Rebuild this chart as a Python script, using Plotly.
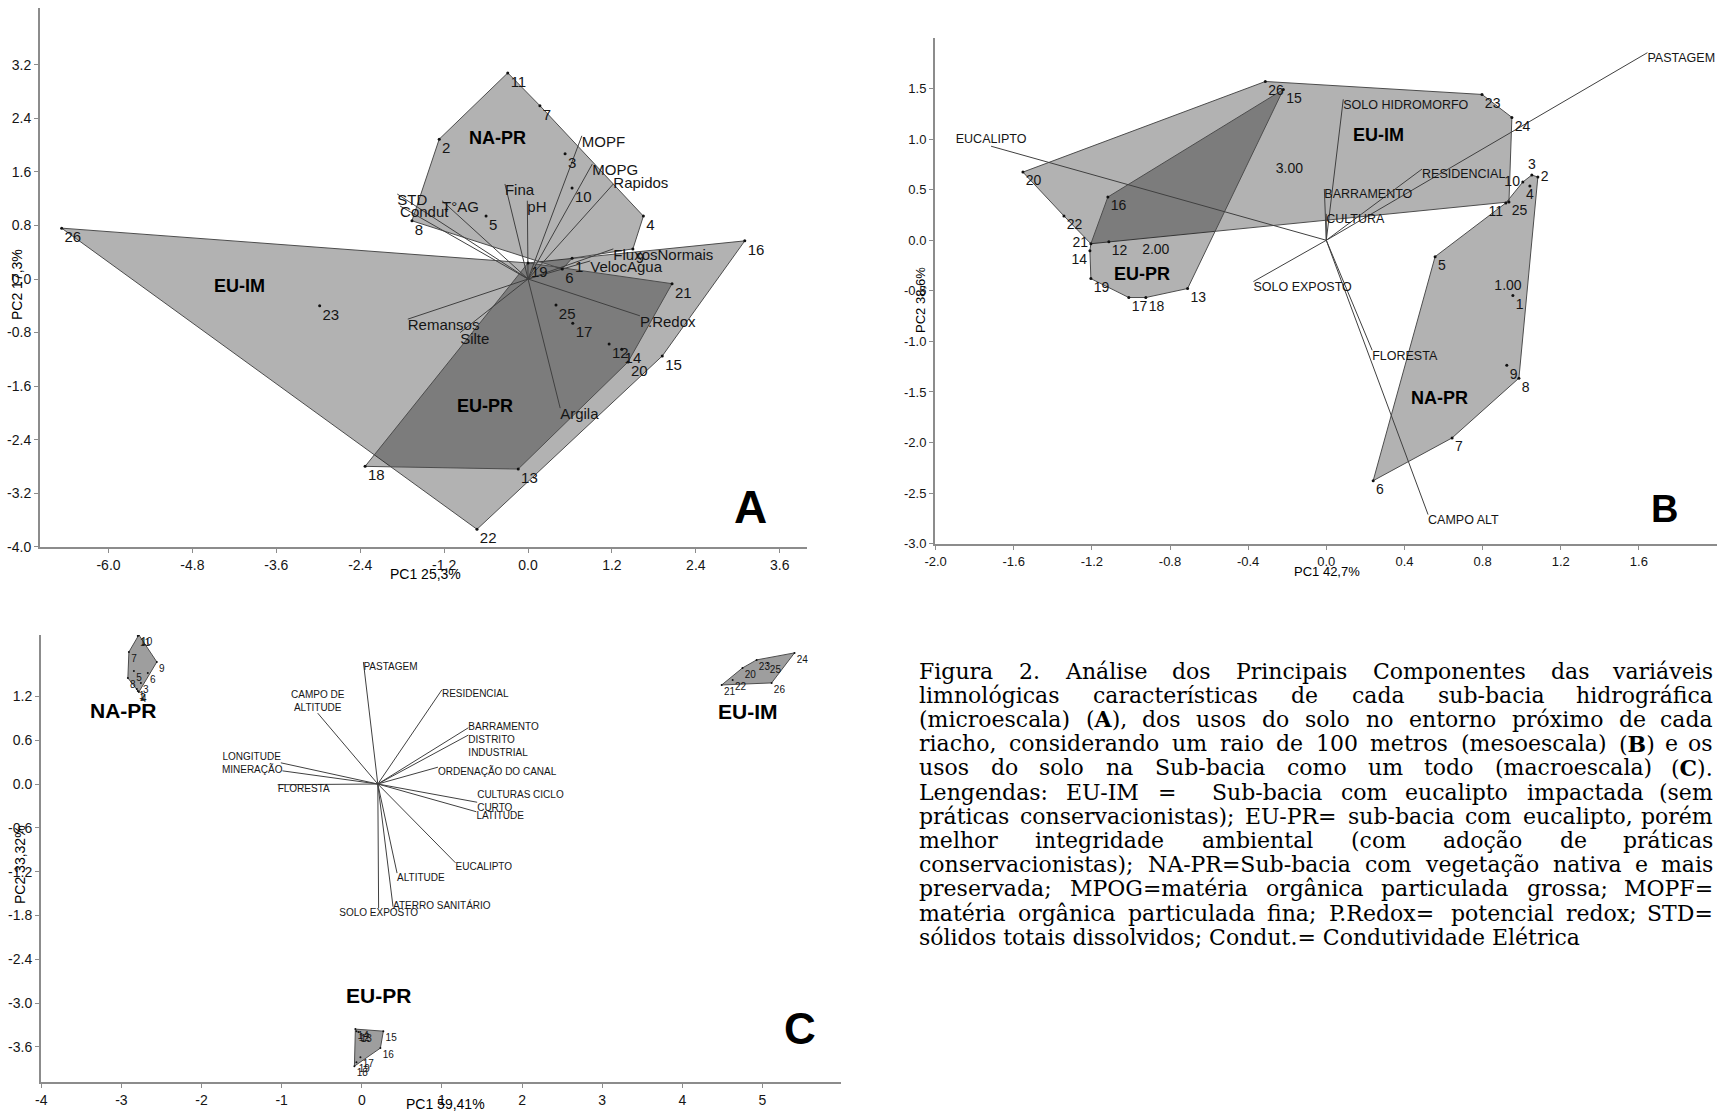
import plotly.graph_objects as go

W, H = 1717, 1114

# ---------------- Panel A (microescala) ----------------
A_site = ['1', '2', '3', '4', '5', '6', '7', '8', '9', '10', '11', '12', '13', '14', '15',
          '16', '17', '18', '19', '20', '21', '22', '23', '25', '26']
A_pc1 = [0.63, -1.27, 0.53, 1.65, -0.60, 0.49, 0.17, -1.66, 1.50, 0.63, -0.29, 1.16, -0.14, 1.34, 1.92,
         3.10, 0.64, -2.33, 0.00, 1.43, 2.06, -0.73, -2.98, 0.40, -6.67]
A_pc2 = [0.31, 2.09, 1.87, 0.94, 0.94, 0.15, 2.59, 0.87, 0.45, 1.36, 3.08, -0.97, -2.84, -1.05, -1.15,
         0.57, -0.66, -2.80, 0.24, -1.24, -0.07, -3.74, -0.40, -0.39, 0.76]
A_hulls = [['26', '19', '16', '15', '22'],
           ['11', '7', '4', '9', '1', '6', '8', '2'],
           ['19', '21', '20', '13', '18']]
A_var = ['MOPF', 'MOPG', 'Rapidos', 'Fina', 'pH', 'STD', 'Condut', 'T°AG', 'FluxosNormais',
         'VelocAgua', 'P.Redox', 'Argila', 'Remansos', 'Silte']
A_var_x = [0.77, 0.92, 1.22, -0.33, -0.01, -1.87, -1.83, -1.23, 1.22, 0.89, 1.60, 0.46, -1.72, -0.97]
A_var_y = [2.14, 1.72, 1.42, 1.42, 1.17, 1.27, 1.09, 1.17, 0.45, 0.27, -0.55, -1.93, -0.60, -0.80]
A_origin = [0.0, 0.0]

# ---------------- Panel B (mesoescala) ----------------
B_site = [str(i) for i in range(1, 27)]
B_pc1 = [0.955, 1.083, 1.052, 1.042, 0.557, 0.240, 0.644, 0.986, 0.924, 1.006, 0.919, -1.113, -0.710,
         -1.210, -0.220, -1.118, -1.011, -0.924, -1.205, -1.553, -1.205, -1.343, 0.797, 0.950, 0.935, -0.312]
B_pc2 = [-0.546, 0.625, 0.645, 0.536, -0.162, -2.377, -1.954, -1.363, -1.235, 0.576, 0.369, -0.015, -0.477,
         -0.103, 1.491, 0.428, -0.566, -0.566, -0.379, 0.674, -0.034, 0.241, 1.442, 1.215, 0.379, 1.570]
B_hulls = [['20', '26', '23', '24', '25', '21', '22'],
           ['15', '13', '18', '17', '19', '14', '21', '16'],
           ['11', '10', '3', '2', '8', '7', '6', '5']]
B_var = ['EUCALIPTO', 'PASTAGEM', 'SOLO HIDROMORFO', 'RESIDENCIAL', 'BARRAMENTO', 'CULTURA',
         'SOLO EXPOSTO', 'FLORESTA', 'CAMPO ALT']
B_var_x = [-1.716, 1.644, 0.087, 0.490, -0.010, 0.0, -0.373, 0.235, 0.521]
B_var_y = [0.930, 1.855, 1.394, 0.704, 0.507, 0.261, -0.408, -1.088, -2.712]
B_origin = [0.0, 0.0]
B_num = ['3.00', '2.00', '1.00']
B_num_x = [-0.189, -0.873, 0.930]
B_num_y = [0.704, -0.103, -0.458]

# ---------------- Panel C (macroescala) ----------------
C_site = [str(i) for i in range(1, 27)]
C_pc1 = [-2.807, -2.795, -2.757, -2.782, -2.844, -2.670, -2.906, -2.919, -2.558, -2.782, -2.795,
         -0.067, -0.042, -0.080, 0.269, 0.232, -0.017, -0.092, -0.067,
         4.751, 4.491, 4.628, 4.927, 5.400, 5.064, 5.114]
C_pc2 = [1.301, 1.274, 1.384, 1.260, 1.548, 1.521, 1.808, 1.452, 1.671, 2.041, 2.027,
         -3.384, -3.397, -3.356, -3.384, -3.616, -3.740, -3.863, -3.808,
         1.589, 1.356, 1.425, 1.699, 1.795, 1.658, 1.384]
C_hulls = [['10', '9', '4', '8', '7'],
           ['14', '15', '16', '18'],
           ['21', '20', '23', '24', '26']]
C_var = ['PASTAGEM', 'CAMPO DE<br>ALTITUDE', 'LONGITUDE', 'MINERAÇÃO', 'FLORESTA', 'RESIDENCIAL',
         'BARRAMENTO', 'DISTRITO<br>INDUSTRIAL', 'ORDENAÇÃO DO CANAL', 'CULTURAS CICLO<br>CURTO',
         'LATITUDE', 'EUCALIPTO', 'ALTITUDE', 'ATERRO SANITÁRIO', 'SOLO EXPOSTO']
C_var_x = [0.02, -0.55, -1.01, -0.99, -1.05, 1.00, 1.33, 1.33, 0.95, 1.44, 1.43, 1.17, 0.44, 0.39, 0.21]
C_var_y = [1.67, 0.97, 0.29, 0.18, -0.01, 1.29, 0.77, 0.67, 0.23, -0.25, -0.38, -1.08, -1.22, -1.68, -1.70]
C_origin = [0.2, 0.0]

# ---------------- Caption ----------------
caption_lines = [
    "Figura 2. Análise dos Principais Componentes das variáveis",
    "limnológicas características de cada sub-bacia hidrográfica",
    "(microescala) (<b>A</b>), dos usos do solo no entorno próximo de cada",
    "riacho, considerando um raio de 100 metros (mesoescala) (<b>B</b>) e os",
    "usos do solo na Sub-bacia como um todo (macroescala) (<b>C</b>).",
    "Lengendas: EU-IM =  Sub-bacia com eucalipto impactada (sem",
    "práticas conservacionistas); EU-PR= sub-bacia com eucalipto, porém",
    "melhor integridade ambiental (com adoção de práticas",
    "conservacionistas); NA-PR=Sub-bacia com vegetação nativa e mais",
    "preservada; MPOG=matéria orgânica particulada grossa; MOPF=",
    "matéria orgânica particulada fina; P.Redox= potencial redox; STD=",
    "sólidos totais dissolvidos; Condut.= Condutividade Elétrica",
]

NARROW = "Liberation Sans Narrow, Arial Narrow, Liberation Sans, Arial, sans-serif"
SANS = "Liberation Sans, Arial, sans-serif"
SERIF = "DejaVu Serif, Liberation Serif, serif"
FILL = 'rgba(0,0,0,0.30)'
TXT = '#151515'

fig = go.Figure()


def add_panel(xa, ya, sites, px, py, hulls, vnames, vx, vy, origin,
              site_font, var_font, site_pos, var_pos, fill, msize=3):
    idx = {s: i for i, s in enumerate(sites)}
    for hull in hulls:
        hx = [px[idx[s]] for s in hull] + [px[idx[hull[0]]]]
        hy = [py[idx[s]] for s in hull] + [py[idx[hull[0]]]]
        fig.add_trace(go.Scatter(x=hx, y=hy, mode='lines', fill='toself', fillcolor=fill,
                                 line=dict(color='#4d4d4d', width=1), xaxis=xa, yaxis=ya,
                                 hoverinfo='skip', showlegend=False))
    lx, ly = [], []
    for a, b in zip(vx, vy):
        lx += [origin[0], a, None]
        ly += [origin[1], b, None]
    fig.add_trace(go.Scatter(x=lx, y=ly, mode='lines', line=dict(color='#404040', width=1),
                             xaxis=xa, yaxis=ya, hoverinfo='skip', showlegend=False))
    fig.add_trace(go.Scatter(x=vx, y=vy, mode='text', text=vnames, textposition=var_pos,
                             textfont=var_font, xaxis=xa, yaxis=ya, hoverinfo='skip', showlegend=False))
    fig.add_trace(go.Scatter(x=px, y=py, mode='markers+text', text=sites, textposition=site_pos,
                             marker=dict(size=msize, color='#111111'), textfont=site_font,
                             xaxis=xa, yaxis=ya, hoverinfo='skip', showlegend=False))


# Panel A
A_var_pos = ['bottom right'] * len(A_var)
A_var_pos[A_var.index('Rapidos')] = 'middle right'
add_panel('x', 'y', A_site, A_pc1, A_pc2, A_hulls, A_var, A_var_x, A_var_y, A_origin,
          dict(family=NARROW, size=15, color=TXT), dict(family=NARROW, size=15, color=TXT),
          ['bottom right'] * len(A_site), A_var_pos, FILL)

# Panel B
B_pos_special = {'21': 'middle left', '14': 'bottom left', '10': 'middle left', '3': 'top center',
                 '2': 'middle right', '4': 'bottom center', '11': 'bottom left'}
B_site_pos = [B_pos_special.get(s, 'bottom right') for s in B_site]
B_var_pos = ['bottom right'] * len(B_var)
B_var_pos[0] = 'top center'
add_panel('x2', 'y2', B_site, B_pc1, B_pc2, B_hulls, B_var, B_var_x, B_var_y, B_origin,
          dict(family=NARROW, size=14, color=TXT), dict(family=NARROW, size=12.5, color=TXT),
          B_site_pos, B_var_pos, FILL)
fig.add_trace(go.Scatter(x=B_num_x, y=B_num_y, mode='text', text=B_num, textposition='middle center',
                         textfont=dict(family=NARROW, size=14, color=TXT), xaxis='x2', yaxis='y2',
                         hoverinfo='skip', showlegend=False))

# Panel C
C_var_pos = ['bottom right', 'top center', 'top left', 'middle left', 'bottom right', 'bottom right',
             'middle right', 'bottom right', 'bottom right', 'middle right', 'bottom right',
             'bottom right', 'bottom right', 'middle right', 'bottom center']
add_panel('x3', 'y3', C_site, C_pc1, C_pc2, C_hulls, C_var, C_var_x, C_var_y, C_origin,
          dict(family=SANS, size=10, color=TXT), dict(family=SANS, size=10, color=TXT),
          ['bottom right'] * len(C_site), C_var_pos, 'rgba(0,0,0,0.38)', msize=2)


def ax(domain, rng, tickvals, fmt, size, anchor):
    return dict(domain=domain, range=rng, anchor=anchor, showgrid=False, zeroline=False,
                automargin=False,
                showline=True, linecolor='#8c8c8c', linewidth=2, ticks='outside', ticklen=4,
                tickcolor='#8c8c8c', tickwidth=1, tickvals=tickvals,
                ticktext=[fmt % v for v in tickvals],
                tickfont=dict(family=NARROW, size=size, color=TXT))


A_xt = [-6.0, -4.8, -3.6, -2.4, -1.2, 0.0, 1.2, 2.4, 3.6]
A_yt = [-4.0, -3.2, -2.4, -1.6, -0.8, 0.0, 0.8, 1.6, 2.4, 3.2]
B_xt = [-2.0, -1.6, -1.2, -0.8, -0.4, 0.0, 0.4, 0.8, 1.2, 1.6]
B_yt = [-3.0, -2.5, -2.0, -1.5, -1.0, -0.5, 0.0, 0.5, 1.0, 1.5]
C_xt = [-4, -3, -2, -1, 0, 1, 2, 3, 4, 5]
C_yt = [-3.6, -3.0, -2.4, -1.8, -1.2, -0.6, 0.0, 0.6, 1.2]

fig.update_layout(
    width=W, height=H, margin=dict(l=0, r=0, t=0, b=0, autoexpand=False),
    paper_bgcolor='white', plot_bgcolor='white', showlegend=False,
    xaxis=ax([40 / W, 807 / W], [-6.98, 3.99], A_xt, '%.1f', 14, 'y'),
    yaxis=ax([1 - 547 / H, 1 - 8 / H], [-4.005, 4.05], A_yt, '%.1f', 14, 'x'),
    xaxis2=ax([935 / W, 1.0], [-2.003, 2.0], B_xt, '%.1f', 13, 'y2'),
    yaxis2=ax([1 - 544 / H, 1 - 38 / H], [-3.003, 2.0], B_yt, '%.1f', 13, 'x2'),
    xaxis3=ax([41 / W, 841 / W], [-4.003, 5.98], C_xt, '%d', 14, 'y3'),
    yaxis3=ax([1 - 1082 / H, 1 - 635 / H], [-4.08, 2.04], C_yt, '%.1f', 14, 'x3'),
)


def pann(text, px, py, size, family=NARROW, angle=0, bold=False):
    fig.add_annotation(x=px / W, y=1 - py / H, xref='paper', yref='paper', showarrow=False,
                       text=('<b>%s</b>' % text) if bold else text, textangle=angle,
                       font=dict(family=family, size=size, color='#000'),
                       xanchor='center', yanchor='middle')


def dann(text, x, y, xr, yr, size, family=SANS):
    fig.add_annotation(x=x, y=y, xref=xr, yref=yr, showarrow=False, text='<b>%s</b>' % text,
                       font=dict(family=family, size=size, color='#000'),
                       xanchor='center', yanchor='middle')


# axis titles
pann('PC1 25,3%', 425, 574, 14)
pann('PC2 17,3%', 17, 285, 14, angle=-90)
pann('PC1 42,7%', 1327, 571, 13)
pann('PC2 38,6%', 920, 300, 13, angle=-90)
pann('PC1 59,41%', 445, 1104, 14)
pann('PC2 33,32%', 20, 865, 14, angle=-90)

# panel letters
pann('A', 750, 507, 46, bold=True)
pann('B', 1664, 509, 38, bold=True)
pann('C', 800, 1028, 44, bold=True)

# group labels
dann('EU-IM', -4.12, -0.10, 'x', 'y', 18)
dann('NA-PR', -0.43, 2.11, 'x', 'y', 18)
dann('EU-PR', -0.62, -1.90, 'x', 'y', 18)
dann('EU-IM', 0.266, 1.038, 'x2', 'y2', 18)
dann('EU-PR', -0.945, -0.330, 'x2', 'y2', 18)
dann('NA-PR', 0.577, -1.560, 'x2', 'y2', 18)
dann('NA-PR', -2.97, 1.01, 'x3', 'y3', 21)
dann('EU-IM', 4.82, 0.99, 'x3', 'y3', 21)
dann('EU-PR', 0.21, -2.9, 'x3', 'y3', 21)

# caption: justified word placement (approximate DejaVu Serif advance widths)
_w = {}
for ch, w in zip("ABCDEFGHIJKLMNOPQRSTUVWXYZ",
                 [722, 735, 765, 802, 730, 694, 799, 872, 395, 401, 747, 664, 1024, 875, 820, 673, 820,
                  753, 685, 667, 843, 722, 1028, 712, 660, 695]):
    _w[ch] = w
for ch, w in zip("abcdefghijklmnopqrstuvwxyz",
                 [596, 640, 560, 640, 592, 370, 640, 644, 320, 310, 606, 320, 948, 644, 602, 640, 640,
                  478, 513, 402, 644, 565, 856, 564, 565, 527]):
    _w[ch] = w
for ch in "0123456789":
    _w[ch] = 636
_w.update({' ': 318, '.': 318, ',': 318, ':': 337, ';': 337, '(': 390, ')': 390, '-': 338, '=': 838})
_acc = {'á': 'a', 'à': 'a', 'ã': 'a', 'â': 'a', 'é': 'e', 'ê': 'e', 'í': 'i', 'ó': 'o', 'ô': 'o',
        'õ': 'o', 'ú': 'u', 'ç': 'c', 'É': 'E'}


def tw(s, fs):
    s = s.replace('<b>', '').replace('</b>', '')
    return sum(_w.get(_acc.get(c, c), 600) for c in s) * fs / 1000.0


CAP_FS = 22
CAP_L, CAP_R = 918, 1714
CAP_Y0, CAP_DY = 671, 24.2


def cap_word(text, xpx, ypx, anchor):
    fig.add_annotation(x=xpx / W, y=1 - ypx / H, xref='paper', yref='paper', showarrow=False,
                       text=text, xanchor=anchor, yanchor='middle', borderpad=0,
                       font=dict(family=SERIF, size=CAP_FS, color='#000'))


for i, line in enumerate(caption_lines):
    ycur = CAP_Y0 + i * CAP_DY
    if i == len(caption_lines) - 1:
        cap_word(line, CAP_L, ycur, 'left')
        continue
    words = line.split(' ')
    widths = [tw(w, CAP_FS) for w in words]
    gap = (CAP_R - CAP_L - sum(widths)) / (len(words) - 1)
    xcur = CAP_L
    for k, (w, wd) in enumerate(zip(words, widths)):
        if w:
            if k == len(words) - 1:
                cap_word(w, CAP_R, ycur, 'right')
            else:
                cap_word(w, xcur, ycur, 'left')
        xcur += wd + gap

fig.write_html("out.html")
